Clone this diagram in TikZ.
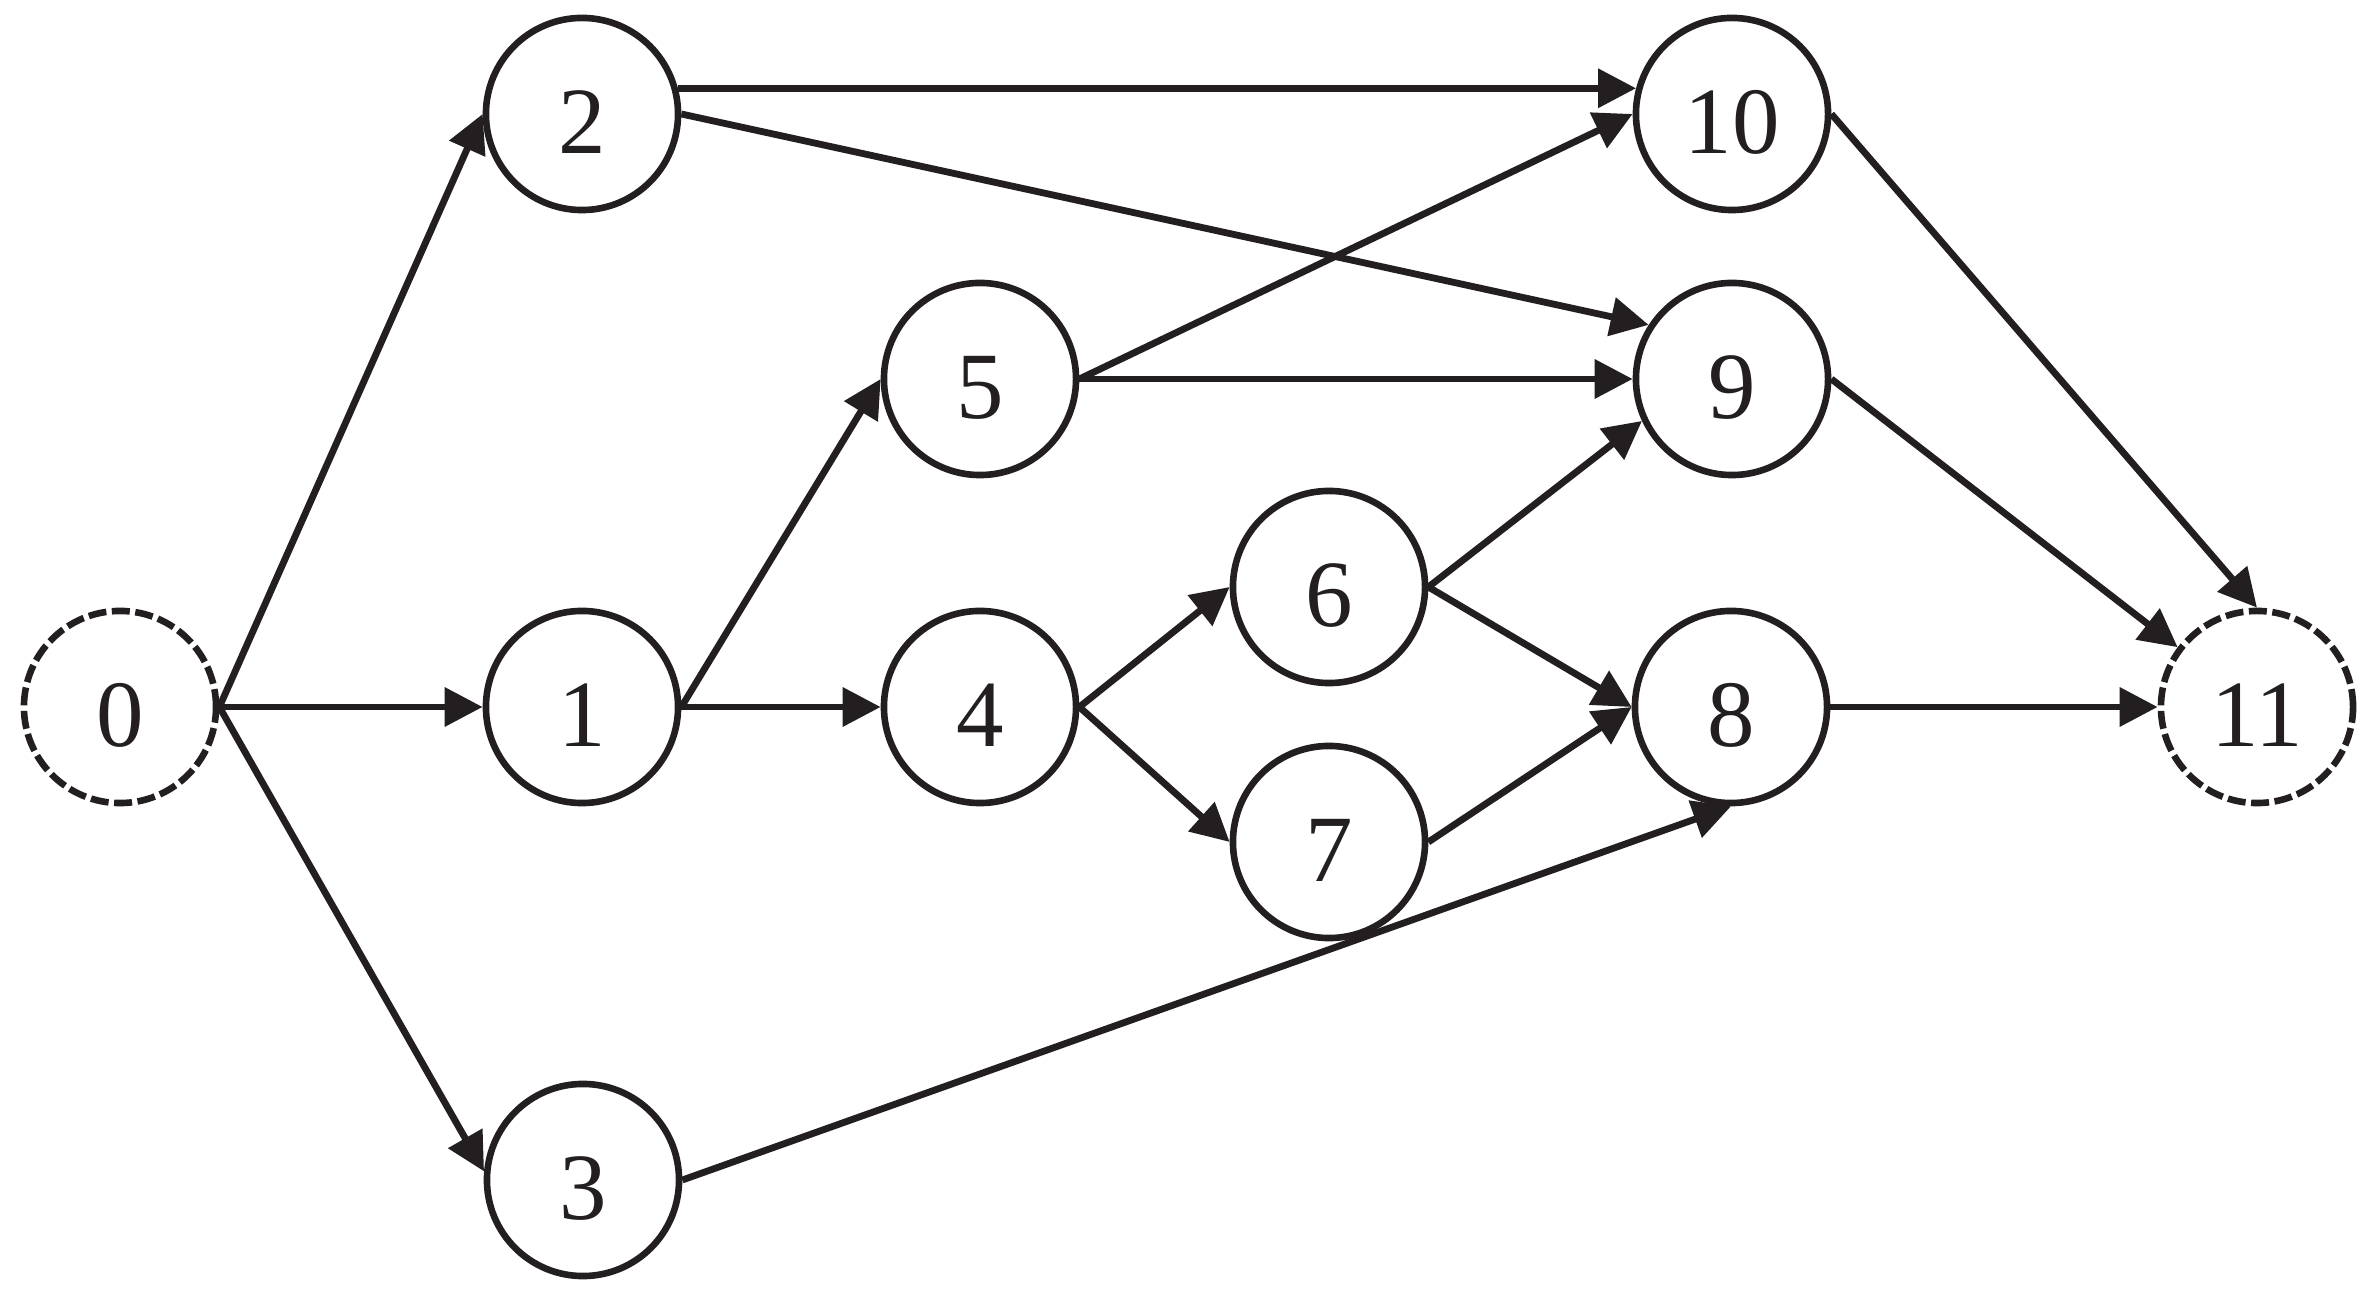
\documentclass[tikz,border=0pt]{standalone}
\usepackage{fontspec}
\setmainfont{Liberation Serif}
\usetikzlibrary{arrows.meta}
\definecolor{ink}{RGB}{35,31,32}
\begin{document}
\begin{tikzpicture}[x=0.01cm,y=-0.01cm,
  vtx/.style={circle,draw=ink,line width=0.066cm,minimum size=1.92cm,inner sep=0pt,
    font=\fontsize{27}{27}\selectfont,text=ink,text height=0.79cm,text depth=0pt},
  term/.style={vtx,dash pattern=on 0.18cm off 0.055cm},
  arr/.style={draw=ink,line width=0.068cm,-{Triangle[length=0.38cm,width=0.38cm]}}]
\path[use as bounding box] (0,0) rectangle (2372,1295);
\node[term] (n0) at (120,707) {0};
\node[vtx] (n1) at (582,707) {1};
\node[vtx] (n2) at (582,114) {2};
\node[vtx] (n3) at (583,1180) {3};
\node[vtx] (n4) at (980,707) {4};
\node[vtx] (n5) at (980,379) {5};
\node[vtx] (n6) at (1329,587) {6};
\node[vtx] (n7) at (1329,842) {7};
\node[vtx] (n8) at (1731,707) {8};
\node[vtx] (n9) at (1732,379) {9};
\node[vtx] (n10) at (1732,114) {10};
\node[term] (n11) at (2257,707) {11};
\draw[arr] (n0.east) -- (n2.west);
\draw[arr] (n0.east) -- (n1.west);
\draw[arr] (n0.east) -- (n3.175);
\draw[arr] (n2.15) -- (n10.165);
\draw[arr] (n2.east) -- (n9.147);
\draw[arr] (n1.east) -- (n5.west);
\draw[arr] (n1.east) -- (n4.west);
\draw[arr] (n5.east) -- (n10.west);
\draw[arr] (n5.east) -- (n9.west);
\draw[arr] (n4.east) -- (n6.west);
\draw[arr] (n4.east) -- (n7.west);
\draw[arr] (n6.east) -- (n9.205);
\draw[arr] (n6.east) -- (n8.west);
\draw[arr] (n7.east) -- (n8.west);
\draw[arr] (n3.east) -- (n8.south);
\draw[arr] (n10.east) -- (n11.north);
\draw[arr] (n9.east) -- (n11.143);
\draw[arr] (n8.east) -- (n11.west);
\end{tikzpicture}
\end{document}
